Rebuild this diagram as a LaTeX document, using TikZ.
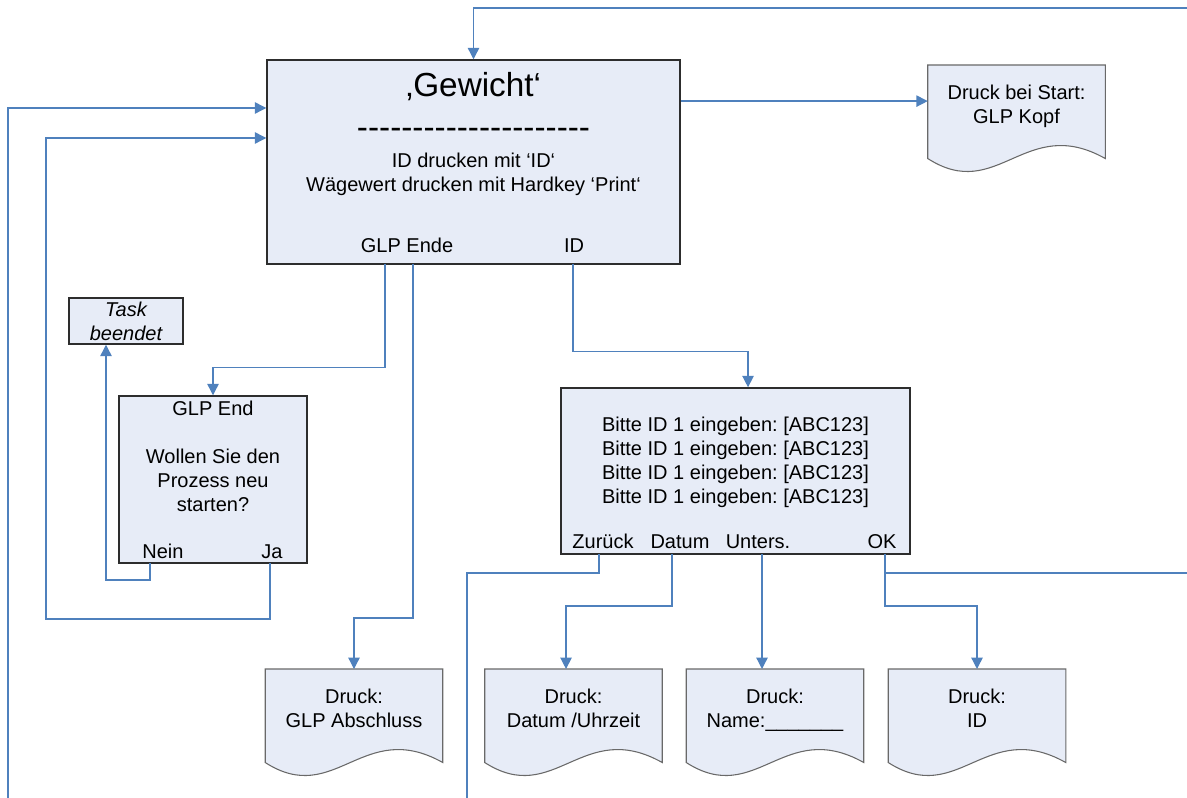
\documentclass[tikz,border=0pt]{standalone}
\usepackage{fontspec}
\setmainfont{Liberation Sans}
\usetikzlibrary{arrows.meta, calc}
\definecolor{boxfill}{RGB}{231, 236, 247}
\definecolor{flowblue}{RGB}{79, 129, 189}
\definecolor{boxline}{RGB}{45, 45, 45}
\definecolor{docgray}{RGB}{105, 105, 105}
\frenchspacing

\newcommand\bodyfont{\fontsize{15}{18}\selectfont}
\newcommand\titlefont{\fontsize{25}{30}\selectfont}
\newcommand\dashrow{\foreach \i in {1,...,21}{-\kern0pt}}

% printout: name, top centre, text
\newcommand\druckdoc[3]{%
  \node[docbody] (#1) at (#2) {};
  \filldraw[docedge] (#1.north west) -- (#1.north east) -- (#1.south east)
    .. controls +(-80,-45) and +(70,45) .. (#1.south west) -- cycle;
  \node[doctext] at (#1.north) {\strut #3};
}

\begin{document}
\begin{tikzpicture}[
    x=0.75pt, y=-0.75pt,
    screen/.style={rectangle, draw=boxline, line width=1.1pt, fill=boxfill},
    lbl/.style={font=\bodyfont, anchor=base, inner sep=0pt},
    block/.style={font=\bodyfont, anchor=north, inner sep=0pt, align=center},
    doctext/.style={block, yshift=-12.9pt},
    docbody/.style={rectangle, anchor=north, minimum width=132.75pt, minimum height=69.75pt, inner sep=0pt},
    docedge/.style={draw=docgray, line width=0.8pt, fill=boxfill},
    flow/.style={draw=flowblue, line width=1pt},
    arr/.style={flow, -{Triangle[length=8.5pt, width=8.5pt]}}
]
\useasboundingbox (0,0) rectangle (1187,798);

% Weighing screen
\node[screen, minimum width=309.75pt, minimum height=153pt] (main) at (473.5,162) {};
\node[lbl, font=\titlefont] (title) at (473.5,97) {‚Gewicht‘};
\node[lbl, font=\titlefont] (rule) at (473.5,139) {\dashrow};
\node[block] (hint) at (473.5,150) {\strut ID drucken mit ‘ID‘\\Wägewert drucken mit Hardkey ‘Print‘};
\node[lbl] (endkey) at (407,253) {GLP Ende};
\node[lbl] (idkey) at (574,253) {ID};

% Task end
\node[screen, minimum width=85.5pt, minimum height=34.5pt, inner sep=0pt,
      font=\bodyfont\itshape, align=center] (task) at (126,321) {Task\\beendet};

% GLP end dialog
\node[screen, minimum width=141pt, minimum height=125.25pt] (glpend) at (213,479.5) {};
\node[lbl] (glptitle) at (213,415) {GLP End};
\node[block] (question) at (213,446.2) {\strut Wollen Sie den\\Prozess neu\\starten?};
\node[lbl] (nein) at (163,558) {Nein};
\node[lbl] (ja) at (272,558) {Ja};

% ID input dialog
\node[screen, minimum width=261.75pt, minimum height=124.5pt] (bitte) at (735.5,471) {};
\node[block] (idlines) at (735.5,414.2) {\strut Bitte ID 1 eingeben: [ABC123]\\Bitte ID 1 eingeben: [ABC123]\\Bitte ID 1 eingeben: [ABC123]\\Bitte ID 1 eingeben: [ABC123]};
\node[lbl] (zurueck) at (603,548) {Zurück};
\node[lbl] (datum) at (680,548) {Datum};
\node[lbl] (unters) at (758,548) {Unters.};
\node[lbl] (ok) at (882,548) {OK};

% Printouts
\druckdoc{startdoc}{1016.5,65}{Druck bei Start:\\GLP Kopf}
\druckdoc{glpdoc}{354,669}{Druck:\\GLP Abschluss}
\druckdoc{timedoc}{573.5,669}{Druck:\\Datum /Uhrzeit}
\druckdoc{namedoc}{775,669}{Druck:\\Name:\_\_\_\_\_\_\_}
\druckdoc{iddoc}{977,669}{Druck:\\ID}

% Ports and free ends
\coordinate (topin) at (1187,8);
\coordinate (leftin) at (8,798);
\coordinate (endA) at (385,264);
\coordinate (endB) at (413,264);
\coordinate (idport) at (573,264);
\coordinate (neinport) at (150,563);
\coordinate (japort) at (270,563);
\coordinate (jaback) at (46,619);
\coordinate (backport) at (599,554);
\coordinate (backout) at (467,798);
\coordinate (dateport) at (672,554);
\coordinate (nameport) at (762,554);
\coordinate (okport) at (885,554);
\coordinate (okout) at (1187,573);
\coordinate (startin) at ([yshift=8pt]startdoc.west);
\coordinate (bittein) at ([xshift=9.4pt]bitte.north);
\coordinate (datein) at ([xshift=-5.6pt]timedoc.north);

% Connectors
\draw[arr] (topin) -| (main.north);
\draw[arr] (leftin) |- ([yshift=40.5pt]main.west);
\draw[arr] (startin -| main.east) -- (startin);
\draw[arr] (endA) |- ([yshift=21pt]glpend.north) -- (glpend.north);
\draw[arr] (endB) |- ([yshift=38.25pt]glpdoc.north) -- (glpdoc.north);
\draw[arr] (idport) |- ([yshift=27pt]bittein) -- (bittein);
\draw[arr] (neinport) -- ++(0,17) -| ([xshift=-15pt]task.south);
\draw[arr] (japort) |- (jaback) |- ([yshift=18pt]main.west);
\draw[flow] (backport) -- ++(0,19) -| (backout);
\draw[arr] (dateport) |- ([yshift=47.25pt]datein) -- (datein);
\draw[arr] (nameport) -- (nameport |- namedoc.north);
\draw[arr] (okport) |- ([yshift=47.25pt]iddoc.north) -- (iddoc.north);
\draw[flow] (okport |- okout) -- (okout);

\end{tikzpicture}
\end{document}
